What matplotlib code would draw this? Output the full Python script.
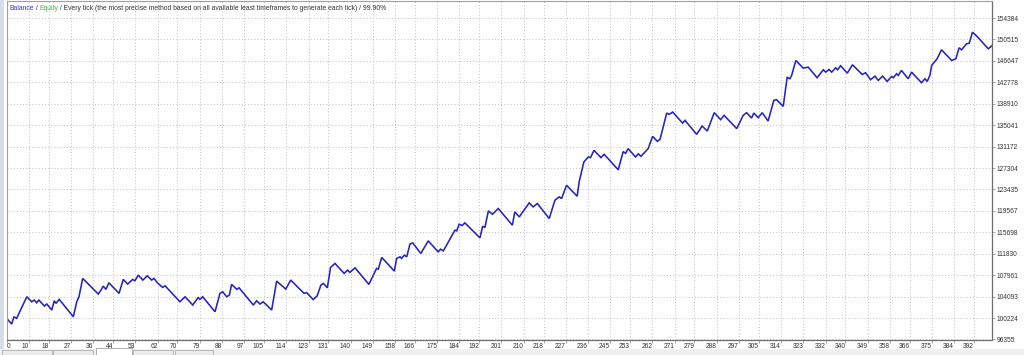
import matplotlib
matplotlib.use("Agg")
import matplotlib.pyplot as plt
from matplotlib.patches import Rectangle


# ── Data ──────────────────────────────────────────────────────────────────────

TRADES = [1.2, 3.0, 3.9, 5.0, 9.1, 11.1, 12.1, 13.1, 14.0, 16.2,
          17.2, 19.2, 20.2, 20.9, 22.2, 27.9, 29.3, 30.2, 31.7, 38.0,
          39.1, 40.0, 41.1, 42.3, 46.4, 48.1, 49.9, 51.9, 52.8, 54.2,
          56.0, 57.8, 59.6, 60.5, 61.9, 64.0, 65.0, 71.0, 73.1, 76.2,
          78.4, 79.1, 80.2, 85.2, 87.2, 88.3, 89.9, 91.0, 91.9, 94.0,
          94.9, 100.7, 102.0, 103.4, 104.7, 108.1, 110.1, 113.8, 115.8, 121.2,
          122.2, 124.9, 126.5, 128.0, 129.0, 130.6, 131.9, 133.7, 137.4, 138.8,
          139.7, 141.8, 147.4, 150.5, 151.2, 152.6, 157.7, 158.6, 160.0, 160.6,
          161.7, 162.7, 164.0, 165.1, 168.4, 171.4, 175.4, 176.4, 177.5, 182.2,
          182.9, 183.9, 185.1, 186.2, 192.3, 193.4, 194.3, 195.7, 197.4, 199.7,
          205.4, 206.4, 208.2, 212.2, 213.8, 215.5, 220.3, 222.6, 224.3, 225.3,
          227.3, 231.6, 232.4, 234.3, 236.1, 237.0, 238.4, 241.2, 242.5, 248.2,
          250.2, 251.2, 252.2, 255.2, 256.3, 257.4, 260.3, 262.1, 264.0, 265.1,
          267.8, 268.8, 270.2, 274.2, 275.2, 279.9, 282.1, 284.2, 287.0, 289.6,
          291.0, 296.1, 298.7, 300.1, 302.1, 303.0, 304.8, 306.4, 308.8, 311.1,
          312.2, 314.9, 316.5, 317.6, 318.3, 320.0, 323.0, 325.0, 328.6, 331.1,
          332.1, 333.4, 334.5, 336.1, 336.9, 338.1, 340.8, 342.9, 346.8, 348.2,
          350.2, 352.0, 353.3, 355.1, 356.9, 358.7, 359.4, 360.7, 361.4, 362.7,
          365.4, 366.8, 370.8, 372.2, 373.1, 374.2, 374.9, 377.1, 378.9, 383.0,
          384.7, 386.0, 387.0, 389.0, 390.1, 391.4, 393.3, 397.8, 399.4]

BALANCE = [100049, 99148, 100464, 100175, 104068, 103167, 103473, 102986, 103473, 102392,
           102752, 101671, 103347, 102878, 103599, 100464, 103167, 104068, 107383, 104554,
           105275, 105996, 105401, 106590, 104680, 107203, 106356, 107203, 106951, 107978,
           107077, 107852, 107077, 107383, 106590, 105761, 106050, 103167, 104068, 102572,
           103959, 103599, 104068, 101365, 104680, 104969, 104068, 104374, 106302, 105401,
           105689, 102572, 103347, 102752, 103167, 101671, 106897, 105455, 107077, 104680,
           104824, 103563, 104248, 106176, 106482, 105689, 109365, 110086, 108284, 108879,
           108464, 109293, 106302, 109185, 109059, 111167, 108699, 110987, 111276, 110987,
           111582, 111276, 113564, 113798, 111888, 114159, 112177, 112663, 112357, 116087,
           115961, 117168, 116934, 117402, 114699, 116808, 116573, 119565, 118970, 119997,
           116988, 119385, 118484, 121006, 120286, 120898, 118195, 121493, 122088, 121799,
           124196, 122214, 124791, 128395, 129296, 129187, 130503, 129187, 129782, 126989,
           130269, 129962, 130809, 129296, 129872, 129422, 130809, 133026, 132125, 132485,
           137224, 136990, 137405, 135422, 135909, 133386, 134882, 133981, 137296, 136035,
           136810, 134413, 136810, 137296, 136323, 137224, 136395, 137296, 135783, 139513,
           139639, 138432, 143712, 143423, 144018, 146721, 145333, 145514, 143603, 145045,
           144613, 145099, 144613, 145405, 145045, 145766, 144432, 145946, 144198, 144504,
           143243, 143892, 143117, 143892, 142937, 143838, 143603, 144324, 144018, 144919,
           143423, 144613, 142702, 143423, 142937, 144018, 145820, 147027, 148649, 146721,
           147027, 149009, 148649, 149730, 149838, 151821, 151046, 148829, 149424]

X_TICKS = [10, 18, 27, 36, 44, 53, 62, 70, 79, 88, 97, 105, 114, 123, 131, 140,
           149, 158, 166, 175, 184, 192, 201, 210, 218, 227, 236, 245, 253, 262,
           271, 279, 288, 297, 305, 314, 323, 332, 340, 349, 358, 366, 375, 384, 392]

Y_TICKS = [96355, 100224, 104093, 107961, 111830, 115698, 119567, 123435,
           127304, 131172, 135041, 138910, 142778, 146647, 150515, 154384]

TITLE_PARTS = [("Balance", "#3a3ac8"), (" / ", "#333333"), ("Equity", "#3cb83c"),
               (" / Every tick (the most precise method based on all available least "
                "timeframes to generate each tick) / 99.90%", "#333333")]

X_MIN, X_MAX = 1.1, 399.3
Y_MIN, Y_MAX = 96355, 157455


# ── Figure ────────────────────────────────────────────────────────────────────

W, H = 1024, 355
fig = plt.figure(figsize=(W / 100, H / 100), dpi=100)
fig.patch.set_facecolor("white")
plt.rcParams["font.family"] = ["Liberation Sans", "DejaVu Sans"]

ax = fig.add_axes([7 / W, 1 - 339.5 / H, 985 / W, 338.5 / H])
ax.plot(TRADES, BALANCE, color="#2424c4", lw=1.15, solid_joinstyle="miter")

ax.set_xlim(X_MIN, X_MAX)
ax.set_ylim(Y_MIN, Y_MAX)

ax.set_xticks([X_MIN] + X_TICKS)
ax.set_xticklabels(["0"] + [str(v) for v in X_TICKS])
for i, lbl in enumerate(ax.get_xticklabels()):
    lbl.set_ha("left" if i == 0 else "right")
ax.set_yticks(Y_TICKS)
ax.set_yticklabels([str(v) for v in Y_TICKS])
ax.yaxis.tick_right()

ax.tick_params(axis="both", labelsize=4.8, colors="#9a9a9a", labelcolor="#333333",
               length=2, width=0.6)
ax.tick_params(axis="x", pad=0.8)
ax.tick_params(axis="y", pad=1.2)

ax.grid(True, color="#c4c4c4", linestyle=(0, (1, 2)), lw=0.75)
ax.set_axisbelow(True)
for side in ["left", "top"]:
    ax.spines[side].set_color("#a0a0a0")
    ax.spines[side].set_linewidth(0.8)
for side in ["right", "bottom"]:
    ax.spines[side].set_color("#6e6e6e")
    ax.spines[side].set_linewidth(0.9)

# multi-coloured header line inside the plot
prev = ax.text(2 / 985, 1 - 4 / 338.5, TITLE_PARTS[0][0], transform=ax.transAxes,
               fontsize=4.9, color=TITLE_PARTS[0][1], ha="left", va="top")
for text, col in TITLE_PARTS[1:]:
    prev = ax.annotate(text, xy=(1, 0), xycoords=prev, fontsize=4.9, color=col,
                       ha="left", va="bottom")

# window chrome: left strip and tab row at the bottom
fig.patches.append(Rectangle((0, 0), 4 / W, 1, transform=fig.transFigure,
                             facecolor="#d6dde8", edgecolor="none"))
fig.patches.append(Rectangle((0, 0), 1, 6 / H, transform=fig.transFigure,
                             facecolor="#f0f0f0", edgecolor="none"))
for x0, x1 in [(2, 52), (53, 93), (133, 173), (175, 213)]:
    fig.patches.append(Rectangle((x0 / W, 0), (x1 - x0) / W, 5 / H,
                                 transform=fig.transFigure, facecolor="#ececec",
                                 edgecolor="#b0b0b0", lw=0.6))
fig.patches.append(Rectangle((96 / W, 0), 36 / W, 7 / H, transform=fig.transFigure,
                             facecolor="white", edgecolor="#a0a0a0", lw=0.6))

fig.savefig("out.png", dpi=100, facecolor="white")
